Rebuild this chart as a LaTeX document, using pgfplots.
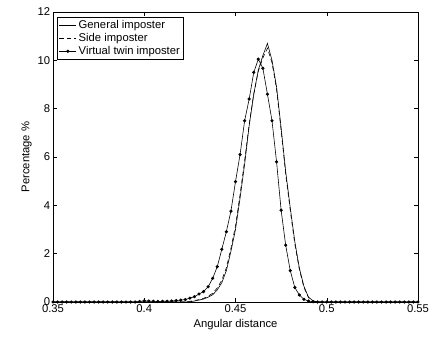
\documentclass[border=0pt]{standalone}
\usepackage{pgfplots}
\pgfplotsset{compat=1.18}
\usepackage{pgfplotstable}
\usepackage{fontspec}
\setmainfont{Liberation Sans}
\pgfplotstableread{
x y
0.3500 0
0.3525 0
0.3550 0
0.3575 0
0.3600 0
0.3625 0
0.3650 0
0.3675 0
0.3700 0
0.3725 0
0.3750 0
0.3775 0
0.3800 0
0.3825 0
0.3850 0
0.3875 0
0.3900 0
0.3925 0
0.3950 0
0.3975 0.02
0.4000 0.05
0.4025 0.04
0.4050 0.03
0.4075 0.02
0.4100 0.03
0.4125 0.03
0.4150 0.04
0.4175 0.06
0.4200 0.08
0.4225 0.10
0.4250 0.16
0.4275 0.22
0.4300 0.33
0.4325 0.43
0.4350 0.63
0.4375 0.98
0.4400 1.46
0.4425 2.18
0.4450 2.91
0.4475 3.76
0.4500 4.98
0.4525 6.10
0.4550 7.50
0.4575 8.40
0.4600 9.50
0.4625 10.05
0.4650 9.67
0.4675 8.60
0.4700 7.50
0.4725 5.80
0.4750 3.80
0.4775 2.35
0.4800 1.30
0.4825 0.60
0.4850 0.29
0.4875 0.11
0.4900 0.04
0.4925 0.01
0.4950 0
0.4975 0
0.5000 0
0.5025 0
0.5050 0
0.5075 0
0.5100 0
0.5125 0
0.5150 0
0.5175 0
0.5200 0
0.5225 0
0.5250 0
0.5275 0
0.5300 0
0.5325 0
0.5350 0
0.5375 0
0.5400 0
0.5425 0
0.5450 0
0.5475 0
0.5500 0
}\virtualtab
\pgfplotstableread{
x y
0.3500 0
0.4225 0
0.4250 0.01
0.4275 0.04
0.4300 0.08
0.4325 0.12
0.4350 0.20
0.4375 0.30
0.4400 0.50
0.4425 0.80
0.4450 1.30
0.4475 2.10
0.4500 3.00
0.4525 4.30
0.4550 5.70
0.4575 7.30
0.4600 8.60
0.4625 9.60
0.4650 10.20
0.4675 10.70
0.4700 10.00
0.4725 8.90
0.4750 7.20
0.4775 5.40
0.4800 3.90
0.4825 2.50
0.4850 1.40
0.4875 0.65
0.4900 0.20
0.4925 0.05
0.4950 0
0.5500 0
}\generaltab
\pgfplotstableread{
x y
0.3500 0
0.4200 0
0.4225 0.01
0.4250 0.03
0.4275 0.06
0.4300 0.10
0.4325 0.15
0.4350 0.24
0.4375 0.36
0.4400 0.58
0.4425 0.90
0.4450 1.42
0.4475 2.22
0.4500 3.15
0.4525 4.45
0.4550 5.85
0.4575 7.35
0.4600 8.60
0.4625 9.55
0.4650 10.10
0.4675 10.50
0.4700 9.90
0.4725 8.80
0.4750 7.10
0.4775 5.30
0.4800 3.80
0.4825 2.40
0.4850 1.35
0.4875 0.60
0.4900 0.18
0.4925 0.04
0.4950 0
0.5500 0
}\sidetab
\begin{document}
\fontsize{11.3}{13}\selectfont
\begin{tikzpicture}
\useasboundingbox (-53bp,-41bp) rectangle (381bp,302bp);
\begin{axis}[
  at={(0,0)}, anchor=south west,
  scale only axis,
  width=365bp, height=290bp,
  xmin=0.35, xmax=0.55, ymin=0, ymax=12,
  xtick={0.35,0.4,0.45,0.5,0.55},
  ytick={0,2,4,6,8,10,12},
  xticklabels={0.35,0.4,0.45,0.5,0.55},
  /pgf/number format/assume math mode=true,
  tick align=inside,
  major tick length=4bp,
  xtick pos=both, ytick pos=both,
  tick style={black, line width=0.4pt},
  axis line style={black, line width=0.5pt},
  ticklabel style={font=\fontsize{11.3}{13}\selectfont},
  label style={font=\fontsize{11.3}{13}\selectfont},
  xticklabel style={yshift=1bp},
  yticklabel style={xshift=1bp},
  xlabel={Angular distance},
  ylabel={Percentage \%},
  xlabel style={yshift=1bp},
  ylabel style={yshift=-2bp},
  legend cell align=left,
  legend style={at={(0.012,0.983)}, anchor=north west, draw=black,
    line width=0.5pt, font=\fontsize{11.3}{13}\selectfont,
    inner sep=1.5pt, row sep=-1pt, cells={anchor=west}},
  legend image post style={line width=0.6pt},
]
\addplot[black, line width=0.6pt, no markers] table[x=x,y=y] {\generaltab};
\addlegendentry{General imposter}
\addplot[black, line width=0.6pt, dash pattern=on 4.5pt off 3pt, no markers] table[x=x,y=y] {\sidetab};
\addlegendentry{Side imposter}
\addplot[black, line width=0.6pt, mark=*, mark size=1.3pt] table[x=x,y=y] {\virtualtab};
\addlegendentry{Virtual twin imposter}
\end{axis}
\end{tikzpicture}
\end{document}
